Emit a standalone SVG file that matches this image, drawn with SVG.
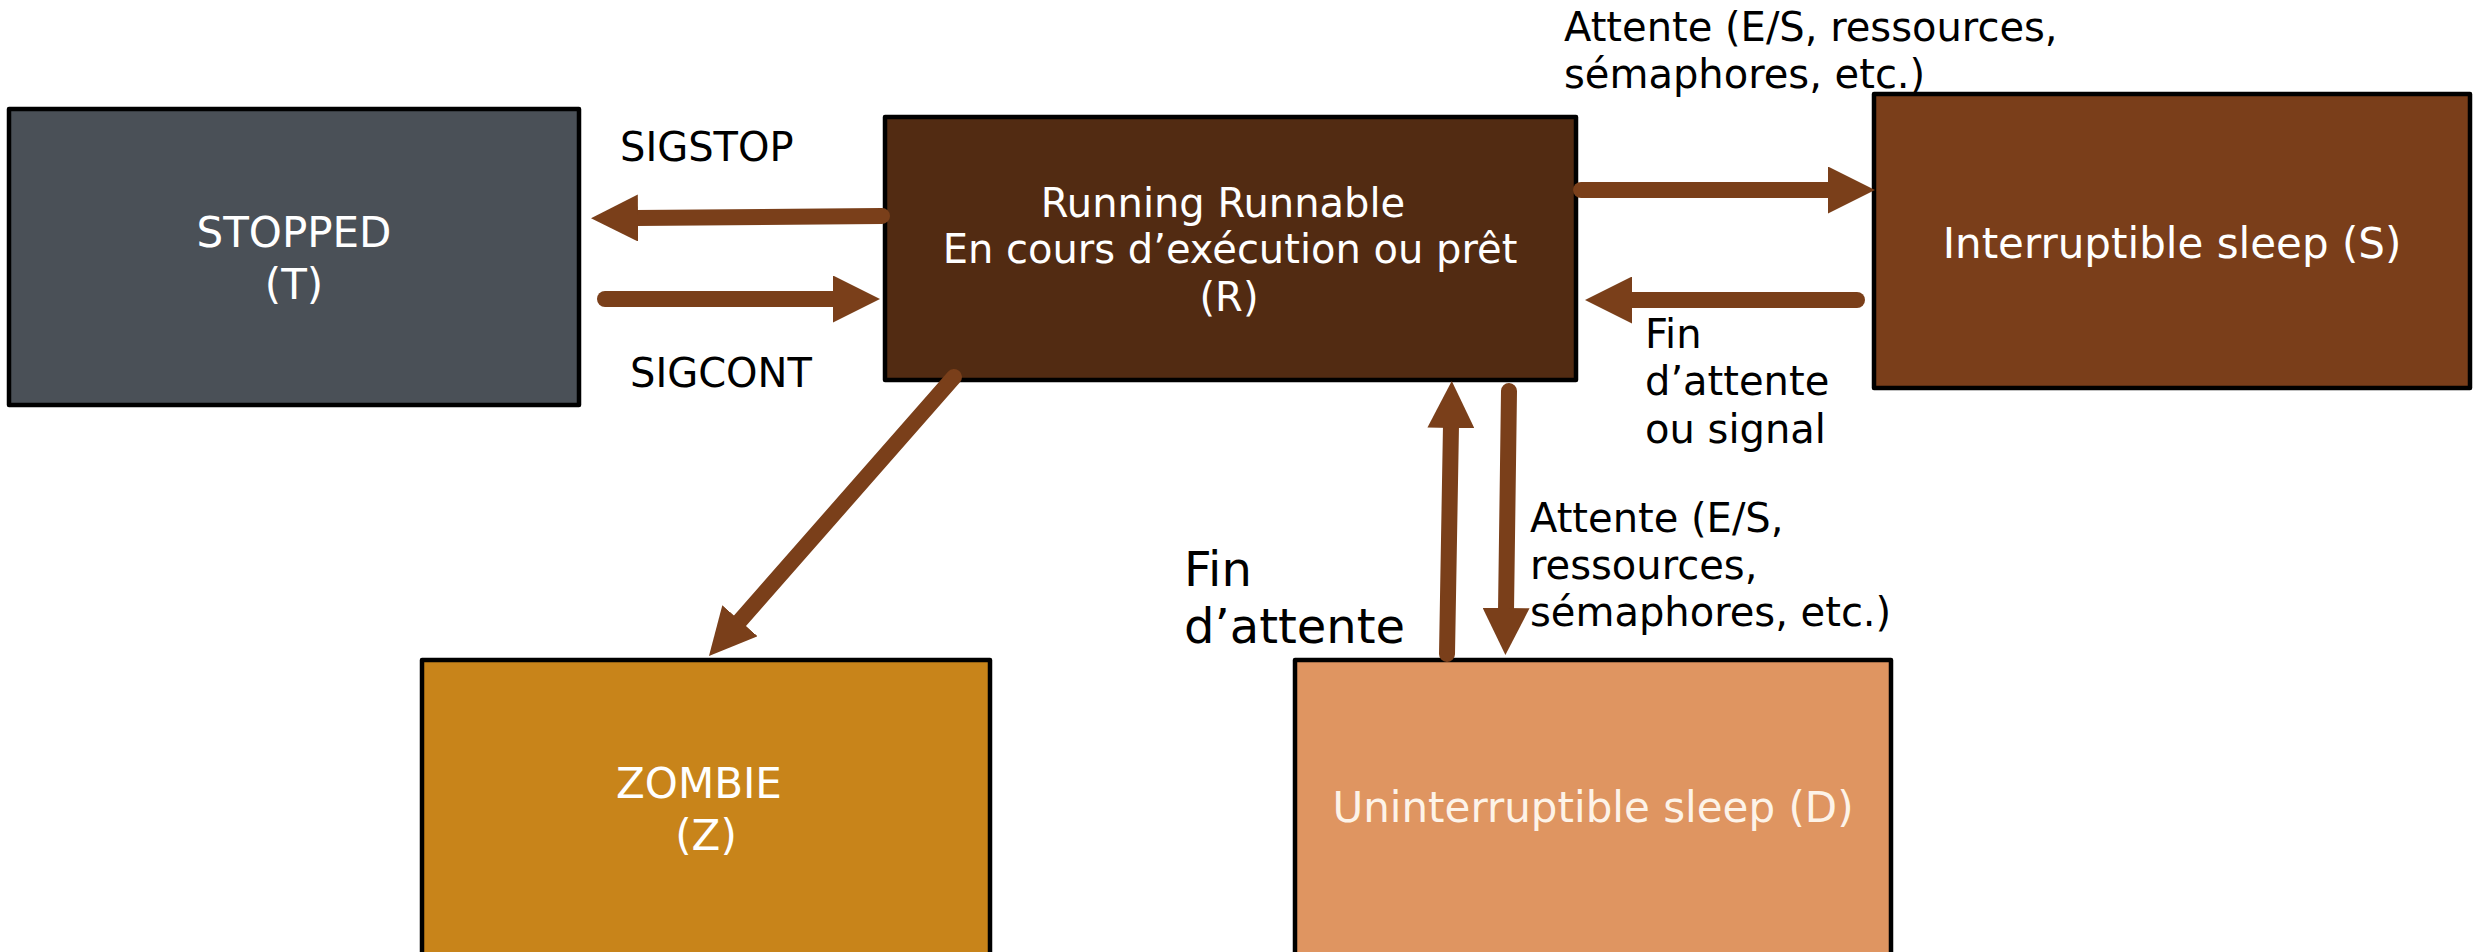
<svg xmlns="http://www.w3.org/2000/svg" width="2484" height="952" viewBox="0 0 2484 952">
<style>
.node{stroke:#000;stroke-width:4.5;stroke-linejoin:round}
.nt{font-family:"DejaVu Sans",sans-serif;font-size:42px;fill:#fff;text-anchor:middle}
.rt{font-size:40px}
.lbl{font-family:"DejaVu Sans",sans-serif;font-size:40px;fill:#000}
.big{font-size:48px}
.edge{stroke:#7a3f1a;stroke-width:16;stroke-linecap:round;fill:none;marker-end:url(#ah)}
</style>
<defs>
<marker id="ah" markerUnits="userSpaceOnUse" viewBox="0 0 47 47" markerWidth="47" markerHeight="47" refX="3" refY="23.5" orient="auto">
<path d="M0,0 L47,23.5 L0,47 z" fill="#7a3f1a"/>
</marker>
</defs>
<rect width="2484" height="952" fill="#fff"/>
<g id="stopped">
<rect class="node" x="9" y="109" width="570" height="296" fill="#4a5057"/>
<text class="nt" x="294" y="247">STOPPED</text>
<text class="nt" x="294" y="299">(T)</text>
</g>
<g id="running">
<rect class="node" x="885" y="117" width="691" height="263" fill="#522b12"/>
<text class="nt rt" x="1223" y="217">Running Runnable</text>
<text class="nt rt" x="1230" y="263">En cours d’exécution ou prêt</text>
<text class="nt rt" x="1229" y="311">(R)</text>
</g>
<g id="interruptible">
<rect class="node" x="1874" y="94" width="596" height="294" fill="#7a3e1a"/>
<text class="nt" x="2172" y="258">Interruptible sleep (S)</text>
</g>
<g id="zombie">
<rect class="node" x="422" y="660" width="568" height="310" fill="#c8841a"/>
<text class="nt" x="699" y="798">ZOMBIE</text>
<text class="nt" x="706" y="850">(Z)</text>
</g>
<g id="uninterruptible">
<rect class="node" x="1295" y="660" width="596" height="310" fill="#df9561"/>
<text class="nt" style="fill:#fdf3e8" x="1593" y="822">Uninterruptible sleep (D)</text>
</g>
<g id="connectors">
<line class="edge" x1="882" y1="216" x2="635" y2="218"/>
<line class="edge" x1="605" y1="299" x2="836" y2="299"/>
<line class="edge" x1="1581" y1="190" x2="1831" y2="190"/>
<line class="edge" x1="1857" y1="300" x2="1629" y2="300"/>
<line class="edge" x1="954" y1="377" x2="738" y2="623"/>
<line class="edge" x1="1447" y1="654" x2="1451" y2="425"/>
<line class="edge" x1="1509" y1="391" x2="1506" y2="611"/>
</g>
<g id="labels">
<text class="lbl" x="620" y="161">SIGSTOP</text>
<text class="lbl" x="630" y="387">SIGCONT</text>
<text class="lbl" x="1564" y="41">Attente (E/S, ressources,</text>
<text class="lbl" x="1564" y="88">sémaphores, etc.)</text>
<text class="lbl" x="1645" y="348">Fin</text>
<text class="lbl" x="1645" y="395">d’attente</text>
<text class="lbl" x="1645" y="443">ou signal</text>
<text class="lbl" x="1530" y="532">Attente (E/S,</text>
<text class="lbl" x="1530" y="579">ressources,</text>
<text class="lbl" x="1530" y="626">sémaphores, etc.)</text>
<text class="lbl big" x="1184" y="586">Fin</text>
<text class="lbl big" x="1184" y="643">d’attente</text>
</g>
</svg>
